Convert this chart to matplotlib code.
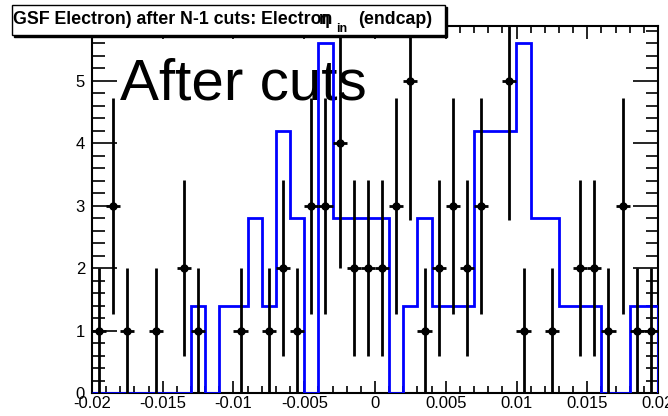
import numpy as np
import matplotlib
matplotlib.use("Agg")
import matplotlib.pyplot as plt
from matplotlib.patches import Rectangle
from matplotlib.ticker import MultipleLocator

plt.rcParams["font.family"] = ["Liberation Sans", "DejaVu Sans"]

# 40 bins from -0.02 to 0.02
bin_edges = np.linspace(-0.02, 0.02, 41)

# data points (after cuts), counts per bin
data_counts = [1, 3, 1, 0, 1, 0, 2, 1, 0, 0,
               1, 0, 1, 2, 1, 3, 3, 4, 2, 2,
               2, 3, 5, 1, 2, 3, 2, 3, 0, 5,
               1, 0, 1, 0, 2, 2, 1, 3, 1, 1]

# blue reference histogram (normalised)
ref_values = [0, 0, 0, 0, 0, 0, 0, 1.4, 0, 1.4,
              1.4, 2.8, 1.4, 4.2, 2.8, 0, 5.6, 2.8, 2.8, 2.8,
              2.8, 0, 1.4, 2.8, 1.4, 1.4, 1.4, 4.2, 4.2, 4.2,
              5.6, 2.8, 2.8, 1.4, 1.4, 1.4, 0, 0, 1.4, 1.4]

title_text = "GSF Electron) after N-1 cuts: Electron"

W, H = 668, 416
fig = plt.figure(figsize=(W / 100, H / 100), dpi=100)
ax = fig.add_axes([92 / W, 23 / H, 566 / W, 367 / H])

centers = 0.5 * (bin_edges[:-1] + bin_edges[1:])
half_w = 0.5 * (bin_edges[1] - bin_edges[0])
counts = np.array(data_counts, dtype=float)
mask = counts > 0

ax.stairs(ref_values, bin_edges, color="#0000ff", lw=2, zorder=3)
ax.errorbar(centers[mask], counts[mask], yerr=np.sqrt(counts[mask]),
            xerr=half_w, fmt="o", color="black", ms=5, elinewidth=2,
            capsize=0, zorder=4)

ax.set_xlim(-0.02, 0.02)
ax.set_ylim(0, 5.88)

ax.xaxis.set_major_locator(MultipleLocator(0.005))
ax.xaxis.set_minor_locator(MultipleLocator(0.001))
ax.yaxis.set_major_locator(MultipleLocator(1))
ax.yaxis.set_minor_locator(MultipleLocator(0.2))
ax.set_xticks(np.arange(-0.02, 0.0201, 0.005))
ax.set_xticklabels(["-0.02", "-0.015", "-0.01", "-0.005", "0",
                    "0.005", "0.01", "0.015", "0.02"])

ax.tick_params(axis="x", which="major", direction="in", length=9, width=1.2,
               top=True, labelsize=12, pad=2)
ax.tick_params(axis="x", which="minor", direction="in", length=5, width=1.2,
               top=True)
ax.tick_params(axis="y", which="major", direction="in", length=18, width=1.2,
               right=True, labelsize=12, pad=5)
ax.tick_params(axis="y", which="minor", direction="in", length=9, width=1.2,
               right=True)
for s in ax.spines.values():
    s.set_linewidth(1.5)

# big label
ax.text(120 / W, 1 - 100 / H, "After cuts", transform=fig.transFigure,
        fontsize=42, va="baseline", ha="left", zorder=1)

# title box with shadow
fig.patches.append(Rectangle((14 / W, 1 - 37 / H), 433 / W, 30 / H,
                             transform=fig.transFigure, facecolor="black",
                             edgecolor="black", zorder=10))
fig.patches.append(Rectangle((12 / W, 1 - 35 / H), 433 / W, 30 / H,
                             transform=fig.transFigure, facecolor="white",
                             edgecolor="black", lw=1, zorder=11))
fig.text(13 / W, 1 - 24 / H, title_text, fontsize=12.8, fontweight="bold",
         va="baseline", ha="left", zorder=12)
fig.text(318 / W, 1 - 24 / H, "\u03b7", fontsize=12.8, fontweight="bold",
         va="baseline", ha="left", zorder=12)
fig.text(336 / W, 1 - 32 / H, "in", fontsize=9, fontweight="bold",
         va="baseline", ha="left", zorder=12)
fig.text(358 / W, 1 - 24 / H, "(endcap)", fontsize=12.8, fontweight="bold",
         va="baseline", ha="left", zorder=12)

fig.savefig("out.png", dpi=100)
